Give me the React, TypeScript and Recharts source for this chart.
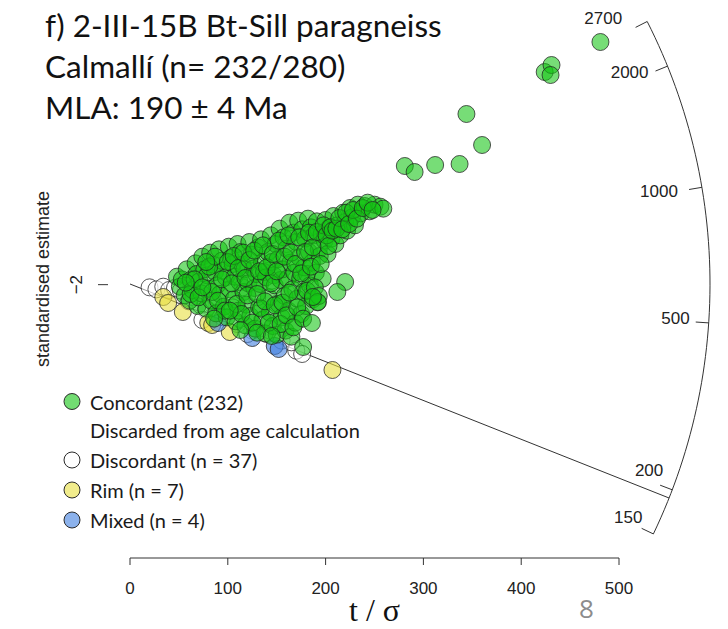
import { ScatterChart, Scatter, XAxis, YAxis, ReferenceLine, Legend } from 'recharts'

// points: [t/σ, standardised estimate]
const concordant: [number, number][] = [
  [48, 22], [51, -8], [53, 14], [56, -34], [58, 44], [61, -50], [62, 12], [64, -18], [67, 62], [68, 30],
  [69, -66], [71, 8], [73, -28], [74, 82], [76, 44], [78, -74], [79, 26], [80, -14], [82, 94], [83, -50],
  [85, 58], [87, 36], [88, -88], [89, -4], [91, 104], [92, -30], [94, 70], [95, 40], [96, -68], [98, 20],
  [99, -100], [101, 112], [102, -16], [103, 78], [105, 60], [106, -46], [107, 22], [108, -112], [110, 120], [111, -80],
  [112, 6], [113, 96], [115, 58], [116, -24], [117, 44], [118, -124], [119, -62], [121, 2], [122, 126], [123, -96],
  [124, 88], [126, 46], [127, -12], [128, -134], [129, 30], [131, 110], [132, -70], [133, 0], [134, 134], [135, 64],
  [136, -106], [137, 36], [138, -148], [139, 20], [141, 96], [142, -40], [143, -86], [144, 146], [145, 66], [146, -126],
  [147, 26], [148, -4], [149, 120], [150, -152], [151, 74], [152, -60], [153, 166], [154, 12], [155, -100], [156, 44],
  [157, 140], [158, -36], [159, -140], [160, 106], [161, 16], [162, -80], [163, 184], [164, 64], [165, -158], [166, -16],
  [167, 154], [168, 34], [169, -116], [170, 126], [171, -44], [172, 190], [173, 80], [174, 16], [175, -90], [176, 164],
  [177, -24], [178, 50], [179, 136], [180, -66], [181, 30], [182, 196], [183, 96], [184, -4], [185, 170], [186, 64],
  [187, -46], [188, 146], [190, 34], [191, 188], [192, -55], [193, 104], [194, 84], [196, 150], [197, 16], [199, 130],
  [200, 192], [202, 90], [204, 170], [206, 136], [208, 204], [210, 120], [212, 176], [215, 146], [218, 214], [220, 186],
  [222, 160], [225, 228], [227, 200], [230, 176], [233, 238], [236, 212], [240, 234], [245, 218], [250, 238], [256, 232],
  [259, 226],
  [81, 52], [84, -24], [87, 82], [90, -50], [94, 14], [97, -80], [100, 66], [104, 2], [106, 84], [109, -60],
  [111, 48], [114, -90], [116, 94], [118, 18], [120, -34], [122, 72], [125, -116], [127, 100], [130, -30], [132, 38],
  [134, -74], [136, 116], [138, -52], [140, 50], [142, -116], [144, 2], [146, 90], [148, -64], [150, 38], [152, 130],
  [154, -120], [156, -56], [158, 82], [160, -94], [162, 146], [163, -26], [165, 94], [167, -130], [169, 60], [171, -70],
  [173, 140], [175, 32], [177, -104], [179, 96], [181, -20], [183, 154], [185, 52], [187, 110], [189, -10], [191, 156],
  [193, -36], [195, 60], [198, 176], [201, 146], [203, 114], [205, 170], [207, 160], [211, 166], [214, 198], [217, 164],
  [221, 214], [224, 180], [228, 222], [232, 196], [238, 228], [243, 244], [248, 222], [62, -30], [66, 14], [70, -40],
  [74, -10], [57, 4], [78, 66], [86, -104], [102, -80], [113, -138], [130, -146], [145, -156],
  [220, 6], [212, -24], [186, -117], [192, -54], [187, -39], [177, -189], [281, 354], [291, 336], [312, 357], [337, 360],
  [344, 510], [360, 417], [424, 636], [431, 657], [430, 627], [481, 726],
]

const discordant: [number, number][] = [
  [20, -10], [27, -16], [34, -8], [40, -18], [46, -12], [52, -20], [72, -63], [78, -78], [89, -86], [95, -100],
  [74, -108], [110, -120], [125, -140], [140, -150], [155, -170], [170, -200], [176, -210], [174, 3], [180, 20], [150, -60],
  [130, -40], [115, -10], [100, 30], [120, 60], [140, 90], [160, 120], [170, -20], [185, 150], [65, -40], [85, -50],
  [135, -110], [145, 10], [105, -70], [160, -90], [120, -150], [60, -52], [165, -175],
]

const rim: [number, number][] = [
  [34, -39], [39, -57], [54, -84], [80, -117], [84, -123], [102, -144], [207, -258],
]

const mixed: [number, number][] = [
  [90, -117], [125, -162], [148, -186], [152, -195],
]

const xTicks = [0, 100, 200, 300, 400, 500]
const yTicks = [-2]
const arcAges = [150, 200, 500, 1000, 2000, 2700]
const centralAge = 190 // MLA
const horizontalAge = 609 // age pointing along y = 0

const legendLabels = [
  'Concordant (232)',
  'Discarded from age calculation',
  'Discordant (n = 37)',
  'Rim (n = 7)',
  'Mixed (n = 4)',
]

// --- layout ---
const W = 728
const H = 629
const KX = 0.978 // px per t/σ unit
const KY = 1 / 3 // px per standardised unit
const Y_AXIS_W = 108
const X_AXIS_H = 71
const ORIGIN_PY = 284
const ARC_R = 580
const X_DOMAIN: [number, number] = [-22.5, 600]
const PLOT_H = H - X_AXIS_H
const Y_DOMAIN: [number, number] = [-(PLOT_H - ORIGIN_PY) / KY, ORIGIN_PY / KY]
const MARGIN_RIGHT = W - Y_AXIS_W - (X_DOMAIN[1] - X_DOMAIN[0]) * KX

const RFONT = '"Liberation Sans", Arial, sans-serif'
const MFONT = 'Lato, "Open Sans", sans-serif'

const GREEN = '#14c414'
const YELLOW = '#e8e040'
const BLUE = '#3f7fe0'
const legendFills = [GREEN, null, '#ffffff', YELLOW, BLUE]
const legendRowH = [27, 30, 30, 30, 30]

const toPts = (arr: [number, number][]) => arr.map(([x, y]) => ({ x, y }))

// angle of an age ray in screen space
const ageTheta = (age: number) => Math.atan(((Math.log(age) - Math.log(horizontalAge)) * KY) / KX)
const onArc = (theta: number) => ({ x: (ARC_R * Math.cos(theta)) / KX, y: (ARC_R * Math.sin(theta)) / KY })

const arcTicks = arcAges.map((age) => ({ ...onArc(ageTheta(age)), age, theta: ageTheta(age) }))
const thLo = ageTheta(arcAges[0])
const thHi = ageTheta(arcAges[arcAges.length - 1])
const arcLine = Array.from({ length: 61 }, (_, i) => onArc(thLo + ((thHi - thLo) * i) / 60))
const centralEnd = onArc(ageTheta(centralAge))

const labelNudge: Record<number, [number, number]> = {
  2700: [-25, -3],
  2000: [-19, 6],
  1000: [-24, 4],
  500: [-19, -4],
  200: [-9, -19],
  150: [-11, -16],
}

const dot = (fill: string, opacity: number) => (props: any) => (
  <circle
    cx={props.cx}
    cy={props.cy}
    r={8.5}
    fill={fill}
    fillOpacity={opacity}
    stroke="#222"
    strokeOpacity={0.75}
    strokeWidth={1}
  />
)

const ArcTick = (props: any) => {
  const { cx, cy, payload } = props
  const th = payload.theta
  const n = labelNudge[payload.age] ?? [-22, 0]
  return (
    <g>
      <line x1={cx} y1={cy} x2={cx - 13 * Math.cos(th)} y2={cy + 13 * Math.sin(th)} stroke="#333" strokeWidth={1} />
      <text x={cx + n[0]} y={cy + n[1]} textAnchor="end" dominantBaseline="central" fontSize={17} fontFamily={RFONT} fill="#222">
        {payload.age}
      </text>
    </g>
  )
}

const YTick = (props: any) => {
  const { x, y, payload } = props
  const lx = x - 19
  return (
    <text x={lx} y={y} transform={`rotate(-90 ${lx} ${y})`} textAnchor="middle" dominantBaseline="central" fontSize={17} fontFamily={RFONT} fill="#222">
      {String(payload.value).replace('-', '\u2212')}
    </text>
  )
}

const YLabel = (props: any) => {
  const vb = props.viewBox || { x: 0, y: 0, width: Y_AXIS_W, height: PLOT_H }
  const lx = vb.x + 43
  const ly = vb.y + vb.height / 2
  return (
    <text x={lx} y={ly} transform={`rotate(-90 ${lx} ${ly})`} textAnchor="middle" dominantBaseline="central" fontSize={18} fontFamily={RFONT} fill="#222">
      standardised estimate
    </text>
  )
}

const LegendBox = () => (
  <div style={{ fontFamily: MFONT, fontSize: 20, color: '#1a1a1a' }}>
    {legendLabels.map((label, i) => (
      <div key={label} style={{ display: 'flex', alignItems: 'center', height: legendRowH[i] }}>
        <svg width={90} height={legendRowH[i]} style={{ flex: 'none' }}>
          {legendFills[i] && (
            <circle cx={72} cy={legendRowH[i] / 2} r={8} fill={legendFills[i] as string} fillOpacity={0.6} stroke="#2a2a2a" strokeWidth={1} />
          )}
        </svg>
        <span style={{ whiteSpace: 'nowrap' }}>{label}</span>
      </div>
    ))}
  </div>
)

export default function App() {
  return (
    <div style={{ position: 'absolute', left: 0, top: 0, width: W, height: H, background: '#fff', overflow: 'hidden' }}>
      <ScatterChart width={W} height={H} margin={{ top: 0, right: MARGIN_RIGHT, bottom: 0, left: 0 }}>
        <XAxis
          type="number"
          dataKey="x"
          domain={X_DOMAIN}
          allowDataOverflow
          ticks={xTicks}
          height={X_AXIS_H}
          axisLine={false}
          tickSize={7}
          tickMargin={17}
          tickLine={{ stroke: '#333' }}
          tick={{ fontSize: 17, fontFamily: RFONT, fill: '#222' }}
        />
        <YAxis
          type="number"
          dataKey="y"
          domain={Y_DOMAIN}
          allowDataOverflow
          ticks={yTicks}
          width={Y_AXIS_W}
          axisLine={false}
          tickSize={10}
          tickLine={{ stroke: '#333' }}
          tick={<YTick />}
          label={<YLabel />}
        />
        <ReferenceLine
          segment={[{ x: 0, y: Y_DOMAIN[0] }, { x: 500, y: Y_DOMAIN[0] }]}
          stroke="#333"
          ifOverflow="visible"
          label={{ value: 't / \u03c3', position: 'bottom', offset: 40, fontSize: 32, fontFamily: '"Liberation Serif", serif', fill: '#111' }}
        />
        <ReferenceLine segment={[{ x: 0, y: 0 }, centralEnd]} stroke="#333" ifOverflow="visible" />
        <Scatter data={arcLine} line={{ stroke: '#333', strokeWidth: 1 }} shape={() => <g />} fill="none" isAnimationActive={false} />
        <Scatter data={arcTicks} shape={<ArcTick />} isAnimationActive={false} />
        <Scatter data={toPts(discordant)} shape={dot('#ffffff', 0.5)} isAnimationActive={false} />
        <Scatter data={toPts(rim)} shape={dot(YELLOW, 0.6)} isAnimationActive={false} />
        <Scatter data={toPts(mixed)} shape={dot(BLUE, 0.6)} isAnimationActive={false} />
        <Scatter data={toPts(concordant)} shape={dot(GREEN, 0.58)} isAnimationActive={false} />
        <Legend
          layout="vertical"
          align="center"
          verticalAlign="middle"
          content={<LegendBox />}
          wrapperStyle={{ left: 0, top: 388, width: 400, height: 150 }}
        />
      </ScatterChart>
      <div style={{ position: 'absolute', left: 579, top: 593, fontFamily: '"Open Sans", sans-serif', fontSize: 26, lineHeight: '30px', color: '#8c8c8c' }}>
        8
      </div>
      <div style={{ position: 'absolute', left: 45, top: 5, fontFamily: MFONT, fontSize: 31.5, lineHeight: '41px', color: '#111' }}>
        <div>f) 2-III-15B Bt-Sill paragneiss</div>
        <div>Calmallí (n= 232/280)</div>
        <div>MLA: 190 ± 4 Ma</div>
      </div>
    </div>
  )
}
